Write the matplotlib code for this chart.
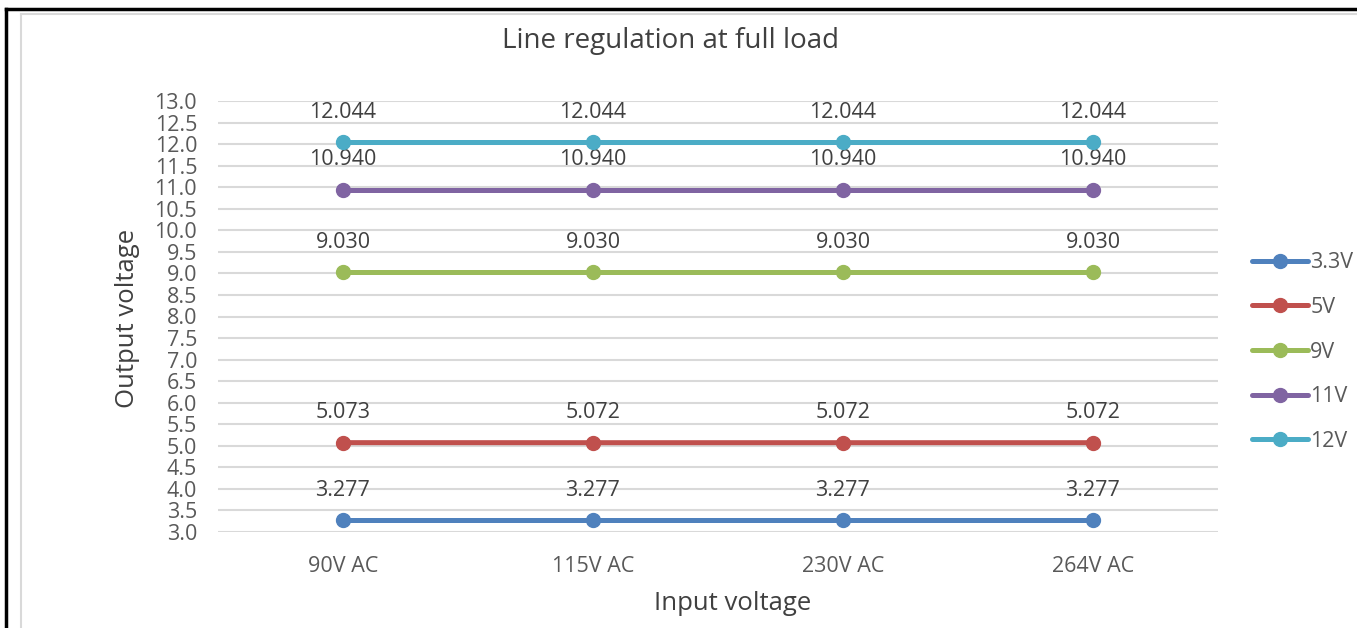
import matplotlib
matplotlib.use("Agg")
import matplotlib.pyplot as plt
from matplotlib.lines import Line2D

plt.rcParams['font.family'] = ['Open Sans', 'DejaVu Sans']

categories = ["90V AC", "115V AC", "230V AC", "264V AC"]
series_names = ["3.3V", "5V", "9V", "11V", "12V"]
v33 = [3.277, 3.277, 3.277, 3.277]
v5 = [5.073, 5.072, 5.072, 5.072]
v9 = [9.030, 9.030, 9.030, 9.030]
v11 = [10.940, 10.940, 10.940, 10.940]
v12 = [12.044, 12.044, 12.044, 12.044]
yticks = [3.0 + 0.5 * i for i in range(21)]

colors = ["#4F81BD", "#C0504D", "#9BBB59", "#8064A2", "#4BACC6"]
series = [v33, v5, v9, v11, v12]

W, H = 1357, 628
fig = plt.figure(figsize=(W / 100, H / 100), dpi=100)
ax = fig.add_axes([218 / W, 1 - 532 / H, 1000 / W, 431 / H])

x = list(range(len(categories)))
for name, vals, c in zip(series_names, series, colors):
    ax.plot(x, vals, color=c, lw=3.6, marker='o', ms=10, label=name,
            solid_capstyle='round', zorder=3)
    for xi, v in zip(x, vals):
        ax.annotate(f"{v:.3f}", (xi, v), xytext=(0, 21.5), textcoords='offset points',
                    ha='center', va='center', fontsize=15.5, color='#404040')

ax.set_xlim(-0.5, 3.5)
ax.set_ylim(3.0, 13.0)
ax.set_yticks(yticks)
ax.set_yticklabels([f"{t:.1f}" for t in yticks])
ax.set_xticks(x)
ax.set_xticklabels(categories)
ax.grid(axis='y', color='#D9D9D9', lw=1.5, zorder=0)
ax.tick_params(axis='both', length=0, labelsize=15.5, labelcolor='#595959')
ax.tick_params(axis='y', pad=15)
ax.tick_params(axis='x', pad=17)
for s in ax.spines.values():
    s.set_visible(False)

fig.text(128 / W, 1 - 318 / H, "Output voltage", rotation=90, ha='center', va='center',
         fontsize=18.5, color='#404040')
fig.text(733 / W, 1 - 603 / H, "Input voltage", ha='center', va='center',
         fontsize=18.5, color='#404040')
fig.text(670 / W, 1 - 41 / H, "Line regulation at full load", ha='center', va='center',
         fontsize=20, color='#404040')

leg = fig.legend(*ax.get_legend_handles_labels(), loc='center left',
                 bbox_to_anchor=(1252 / W, 1 - 352 / H), frameon=False,
                 fontsize=15.5, labelcolor='#595959', handlelength=2.6, handletextpad=0.1,
                 labelspacing=1.1, borderaxespad=0, borderpad=0)

# borders
fig.add_artist(Line2D([21 / W, 21 / W], [0, 1 - 14 / H], color='#D9D9D9', lw=1.5))
fig.add_artist(Line2D([21 / W, 1], [1 - 14 / H, 1 - 14 / H], color='#D9D9D9', lw=1.5))
fig.add_artist(Line2D([6 / W, 6 / W], [0, 1 - 9 / H], color='black', lw=2.5))
fig.add_artist(Line2D([6 / W, 1], [1 - 9 / H, 1 - 9 / H], color='black', lw=2.5))

fig.savefig("out.png", dpi=100)
